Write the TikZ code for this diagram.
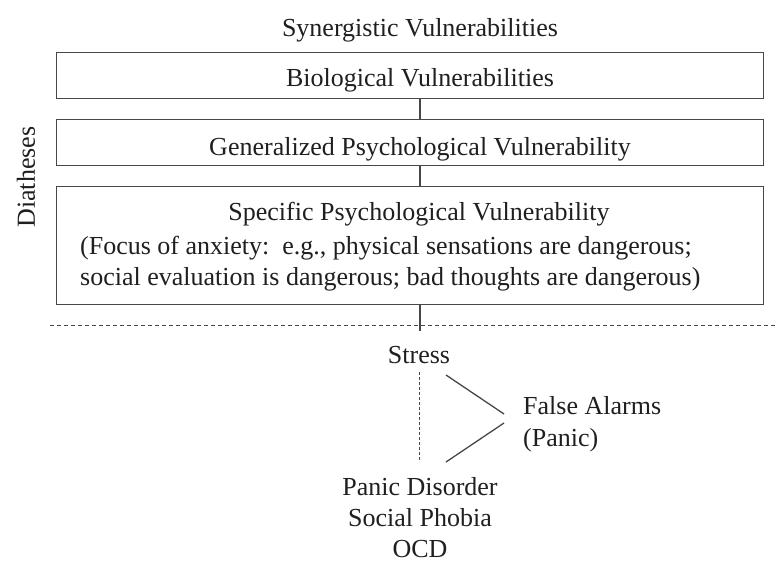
\documentclass[tikz,border=0pt]{standalone}
\usepackage{fontspec}
\setmainfont{Liberation Serif}
\begin{document}
\begin{tikzpicture}[x=1pt,y=-1pt,
  font=\fontsize{26}{31.5}\selectfont,
  ink/.style={draw=black!72,line width=1.3pt},
  vbox/.style={ink,rectangle,minimum width=707pt,inner sep=0pt,anchor=north west},
  lbl/.style={inner sep=0pt,text=black!88},
  thin/.style={draw=black!72,line width=1pt}]
\useasboundingbox (0,0) rectangle (777,560);

% heading and the three stacked vulnerability boxes
\node[lbl,anchor=base] (syn) at (420,36) {Synergistic Vulnerabilities};
\node[vbox,minimum height=46pt] (bio) at (56,52) {};
\node[vbox,minimum height=46pt] (gen) at (56,119) {};
\node[vbox,minimum height=118pt] (spec) at (56,186) {};

\node[lbl,anchor=base] (biot) at (420,86) {Biological Vulnerabilities};
\node[lbl,anchor=base] (gent) at (420,155) {Generalized Psychological Vulnerability};
\node[lbl,anchor=base] (spt) at (419,220) {Specific Psychological Vulnerability};
\node[lbl,anchor=north west,align=left] (foc) at (80,235.5)
  {(Focus of anxiety:\ \ e.g., physical sensations are dangerous;\\
   social evaluation is dangerous; bad thoughts are dangerous)};

\node[lbl,rotate=90] (dia) at (26,177) {Diatheses};

% vertical spine joining the boxes
\coordinate (sp) at (420,0);
\coordinate (sj) at (420,331);
\draw[ink] (bio.south -| sp) -- (gen.north -| sp);
\draw[ink] (gen.south -| sp) -- (spec.north -| sp);
\draw[ink] (spec.south -| sp) -- (sj);

% diathesis / stress divider
\coordinate (dl) at (50,325);
\coordinate (dr) at (777,325);
\draw[thin,dash pattern=on 4pt off 3pt] (dl) -- (dr);

% stress and outcomes
\node[lbl,anchor=base] (st) at (419,363) {Stress};
\node[lbl,anchor=north west,align=left] (fa) at (523,396.5) {False Alarms\\(Panic)};
\node[lbl,anchor=north,align=center,font=\fontsize{26}{31}\selectfont] (dis) at (420,477)
  {Panic Disorder\\Social Phobia\\OCD};

\coordinate (q1) at (419,372);
\coordinate (q2) at (419,462);
\draw[thin,dash pattern=on 3pt off 2pt] (q1) -- (q2);

\coordinate (a1) at (446,375);
\coordinate (a2) at (504,414);
\coordinate (b1) at (504,423);
\coordinate (b2) at (446,462);
\draw[ink] (a1) -- (a2);
\draw[ink] (b1) -- (b2);
\end{tikzpicture}
\end{document}
